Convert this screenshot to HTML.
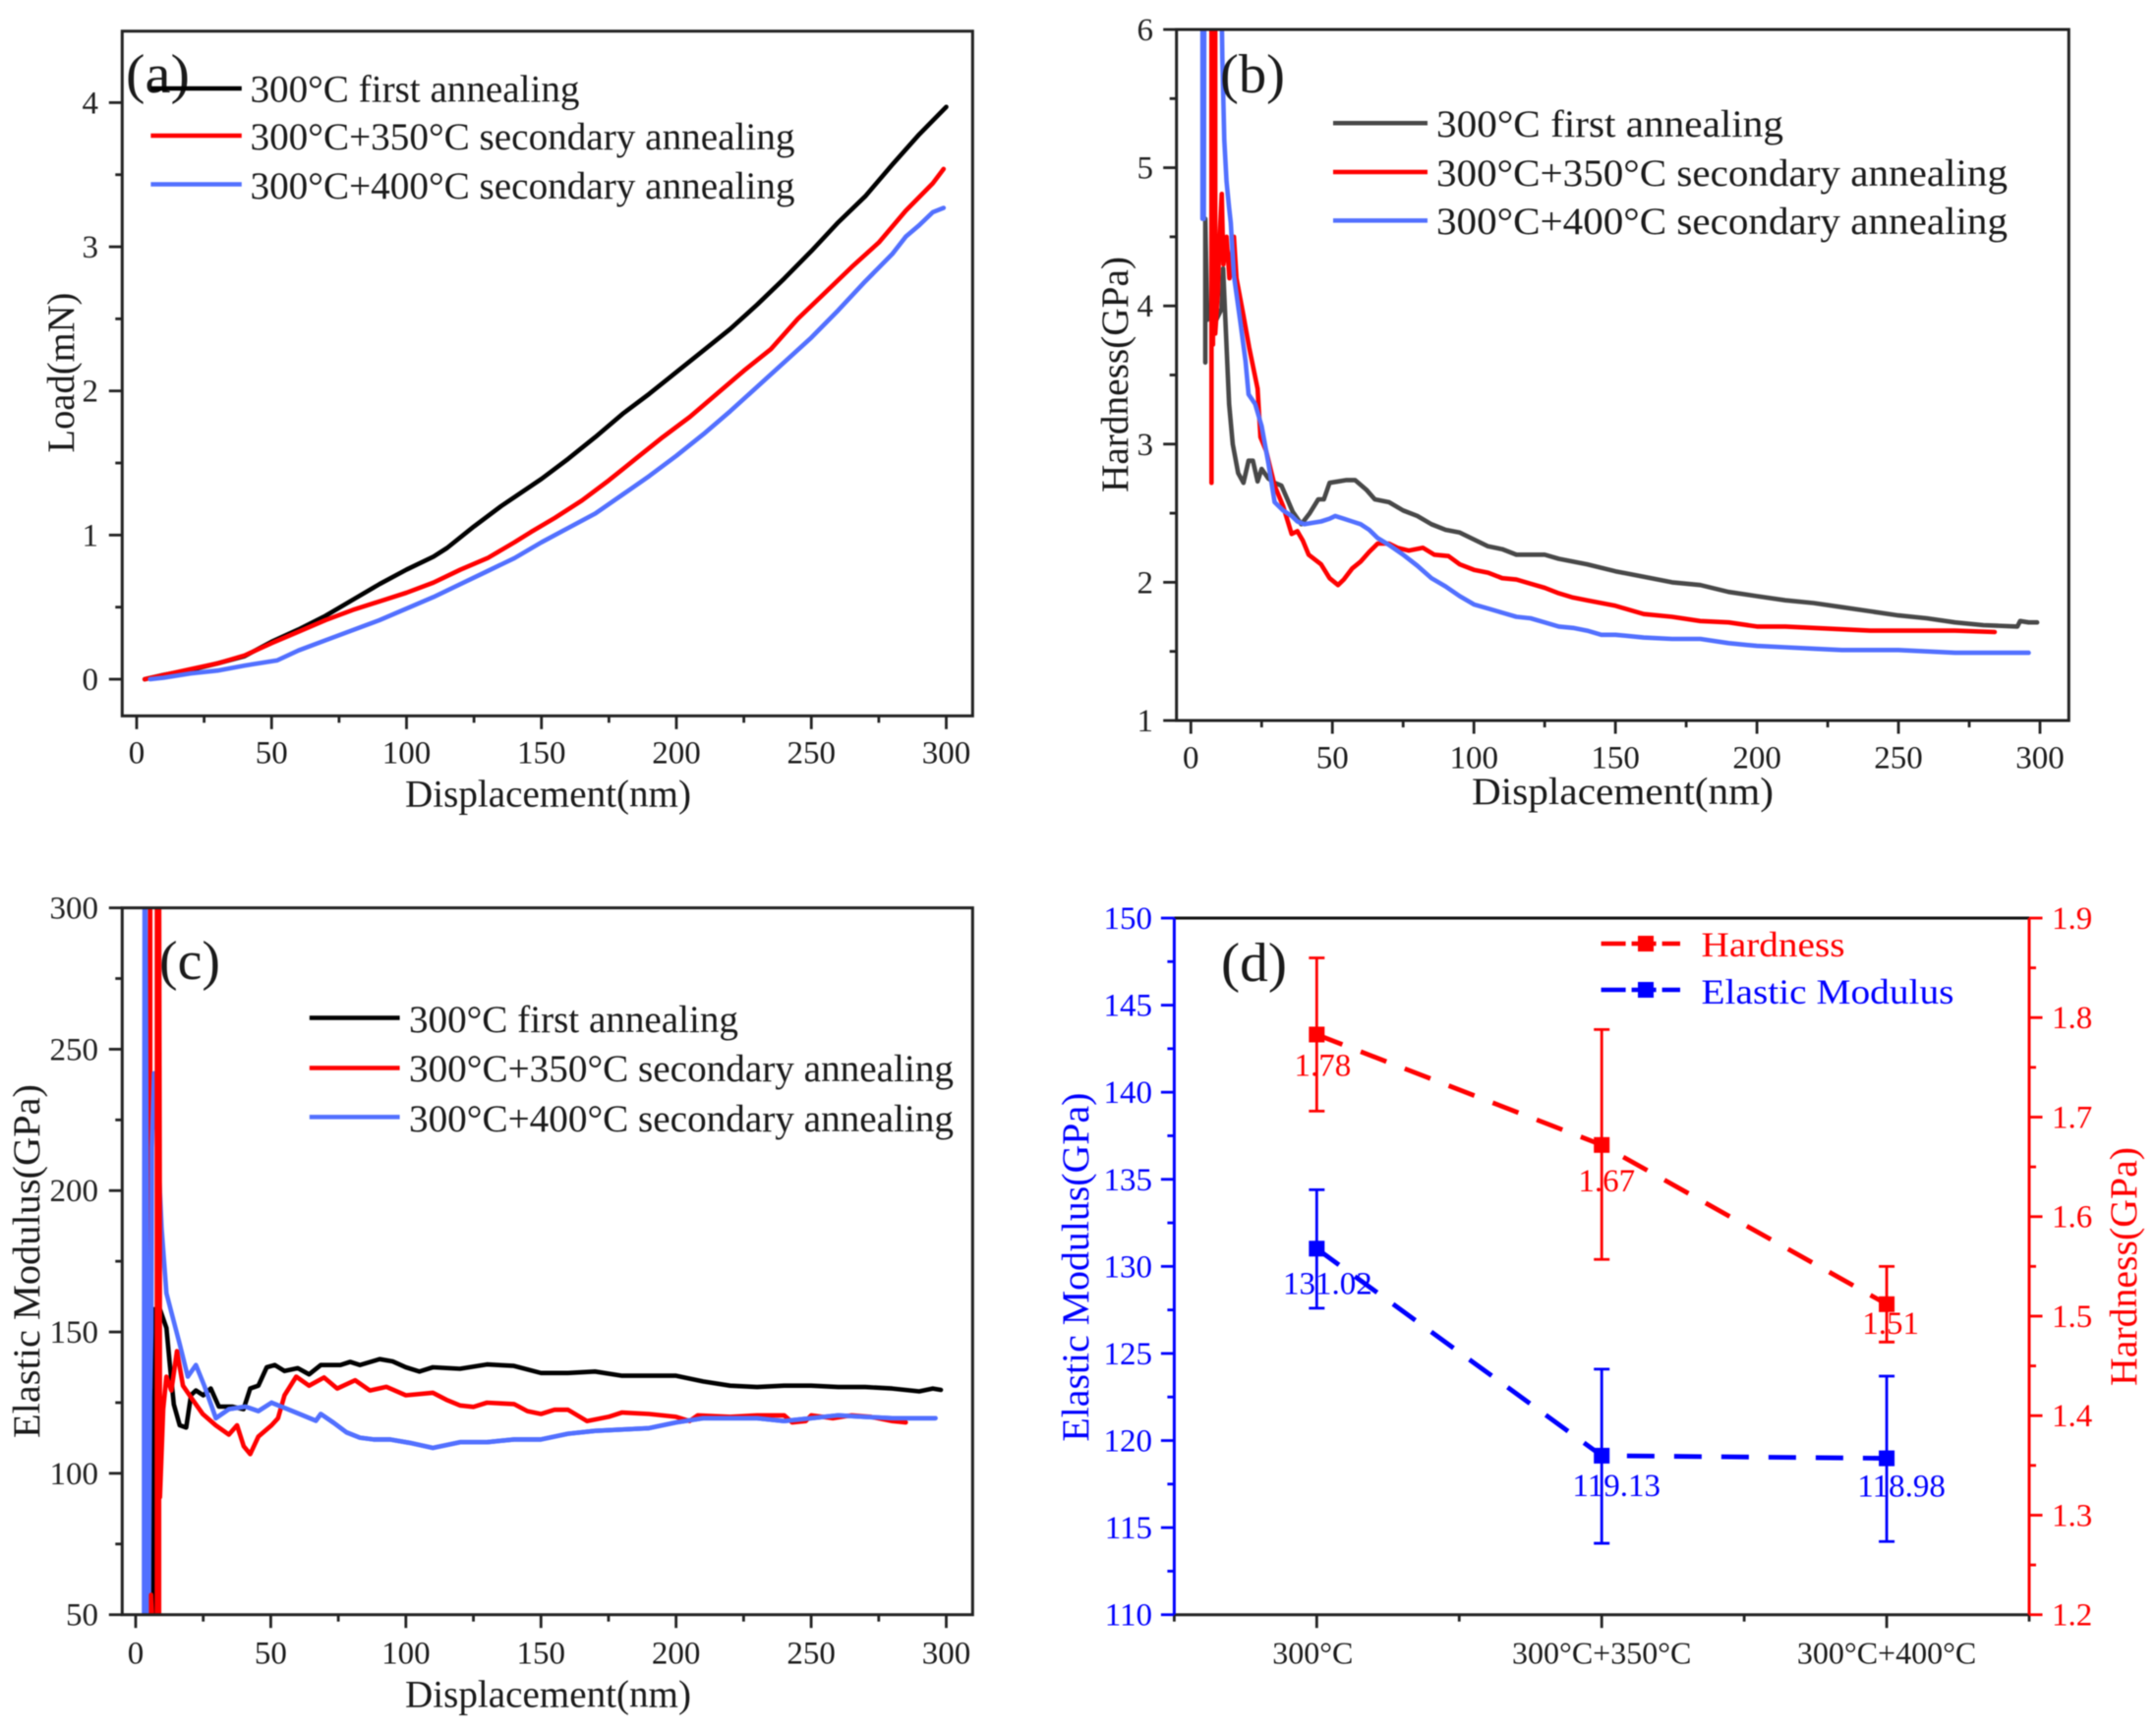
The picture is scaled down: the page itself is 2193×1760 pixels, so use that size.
<!DOCTYPE html>
<html lang="en">
<head>
<meta charset="utf-8">
<title>Nanoindentation results after annealing</title>
<style>
  html, body { margin: 0; padding: 0; background: #fff; }
  svg { display: block; filter: blur(0.6px); }
  text { font-family: "Liberation Serif", serif; fill: #1a1a1a; }
  .leg { font-size: 39px; }
  .title { font-size: 39px; }
  .tag { font-size: 56px; }
</style>
</head>
<body>
<svg id="fig" xmlns="http://www.w3.org/2000/svg" width="2193" height="1760" viewBox="0 0 2193 1760">
  <defs>
    <clipPath id="clip-a"><rect x="124.3" y="31.7" width="865" height="696.6"/></clipPath>
    <clipPath id="clip-b"><rect x="1196.7" y="30" width="907.6" height="703"/></clipPath>
    <clipPath id="clip-c"><rect x="124.3" y="923.6" width="865" height="719.1"/></clipPath>
  </defs>
  <rect width="2193" height="1760" fill="#fff"/>

  <g id="panel-a"></g>
  <g id="panel-b"></g>
  <g id="panel-c"></g>
  <g id="panel-d"></g>

  <!-- panel a text -->
  <text class="tag" x="128" y="94" textLength="65" lengthAdjust="spacingAndGlyphs">(a)</text>
  <text class="title" x="412" y="820.5" textLength="291" lengthAdjust="spacingAndGlyphs">Displacement(nm)</text>
  <text class="title" transform="translate(75,460.6) rotate(-90)" textLength="163" lengthAdjust="spacingAndGlyphs">Load(mN)</text>
  <line x1="153.4" x2="245.8" y1="90" y2="90" stroke="#000" stroke-width="4.5"/>
  <line x1="153.4" x2="245.8" y1="138" y2="138" stroke="#ff0000" stroke-width="4.5"/>
  <line x1="153.4" x2="245.8" y1="187.5" y2="187.5" stroke="#5270ff" stroke-width="4.5"/>
  <text class="leg" x="254.5" y="103.5" textLength="335" lengthAdjust="spacingAndGlyphs">300°C first annealing</text>
  <text class="leg" x="254.5" y="152" textLength="554" lengthAdjust="spacingAndGlyphs">300°C+350°C secondary annealing</text>
  <text class="leg" x="254.5" y="202" textLength="554" lengthAdjust="spacingAndGlyphs">300°C+400°C secondary annealing</text>

  <!-- panel b text -->
  <text class="tag" x="1241" y="94" textLength="66" lengthAdjust="spacingAndGlyphs">(b)</text>
  <text class="title" x="1497" y="818" textLength="307" lengthAdjust="spacingAndGlyphs">Displacement(nm)</text>
  <text class="title" transform="translate(1147,501) rotate(-90)" textLength="240" lengthAdjust="spacingAndGlyphs">Hardness(GPa)</text>
  <line x1="1356" x2="1452" y1="125.3" y2="125.3" stroke="#484848" stroke-width="4.5"/>
  <line x1="1356" x2="1452" y1="175" y2="175" stroke="#ff0000" stroke-width="4.5"/>
  <line x1="1356" x2="1452" y1="224.4" y2="224.4" stroke="#5270ff" stroke-width="4.5"/>
  <text class="leg" x="1461" y="139" textLength="353" lengthAdjust="spacingAndGlyphs">300°C first annealing</text>
  <text class="leg" x="1461" y="189" textLength="581" lengthAdjust="spacingAndGlyphs">300°C+350°C secondary annealing</text>
  <text class="leg" x="1461" y="238" textLength="581" lengthAdjust="spacingAndGlyphs">300°C+400°C secondary annealing</text>

  <!-- panel c text -->
  <text class="tag" x="162" y="996" textLength="62" lengthAdjust="spacingAndGlyphs">(c)</text>
  <text class="title" x="412" y="1736.5" textLength="291" lengthAdjust="spacingAndGlyphs">Displacement(nm)</text>
  <text class="title" transform="translate(40,1463) rotate(-90)" textLength="360" lengthAdjust="spacingAndGlyphs">Elastic Modulus(GPa)</text>
  <line x1="314.8" x2="406.6" y1="1035.5" y2="1035.5" stroke="#000" stroke-width="4.5"/>
  <line x1="314.8" x2="406.6" y1="1086.5" y2="1086.5" stroke="#ff0000" stroke-width="4.5"/>
  <line x1="314.8" x2="406.6" y1="1136.4" y2="1136.4" stroke="#5270ff" stroke-width="4.5"/>
  <text class="leg" x="416" y="1050" textLength="335" lengthAdjust="spacingAndGlyphs">300°C first annealing</text>
  <text class="leg" x="416" y="1100" textLength="554" lengthAdjust="spacingAndGlyphs">300°C+350°C secondary annealing</text>
  <text class="leg" x="416" y="1151" textLength="554" lengthAdjust="spacingAndGlyphs">300°C+400°C secondary annealing</text>

  <!-- panel d text -->
  <text class="tag" x="1242" y="998" textLength="67" lengthAdjust="spacingAndGlyphs">(d)</text>
  <text class="title" style="fill:#0000ff" transform="translate(1107,1466.6) rotate(-90)" textLength="355" lengthAdjust="spacingAndGlyphs">Elastic Modulus(GPa)</text>
  <text class="title" style="fill:#ff0000" transform="translate(2173,1410) rotate(-90)" textLength="243" lengthAdjust="spacingAndGlyphs">Hardness(GPa)</text>
  <line x1="1628.6" x2="1709" y1="960" y2="960" stroke="#ff0000" stroke-width="4.5" stroke-dasharray="25 6"/>
  <rect x="1666" y="952" width="16" height="16" fill="#ff0000"/>
  <line x1="1628.6" x2="1709" y1="1007" y2="1007" stroke="#0000ff" stroke-width="4.5" stroke-dasharray="25 6"/>
  <rect x="1666" y="999" width="16" height="16" fill="#0000ff"/>
  <text class="leg" style="fill:#ff0000;font-size:36px" x="1730.5" y="973" textLength="146" lengthAdjust="spacingAndGlyphs">Hardness</text>
  <text class="leg" style="fill:#0000ff;font-size:36px" x="1730.5" y="1021" textLength="257" lengthAdjust="spacingAndGlyphs">Elastic Modulus</text>
</svg>

<script>
// ---------- tick values ----------
const dispTicks = [0, 50, 100, 150, 200, 250, 300];
const dispMinor = [25, 75, 125, 175, 225, 275];
const loadTicks = [0, 1, 2, 3, 4];
const loadMinor = [0.5, 1.5, 2.5, 3.5];
const hardTicks = [1, 2, 3, 4, 5, 6];
const hardMinor = [1.5, 2.5, 3.5, 4.5, 5.5];
const modTicks = [50, 100, 150, 200, 250, 300];
const modMinor = [75, 125, 175, 225, 275];
const dLeftTicks = [110, 115, 120, 125, 130, 135, 140, 145, 150];
const dLeftMinor = [112.5, 117.5, 122.5, 127.5, 132.5, 137.5, 142.5, 147.5];
const dRightTicks = [1.2, 1.3, 1.4, 1.5, 1.6, 1.7, 1.8, 1.9];
const dRightMinor = [1.25, 1.35, 1.45, 1.55, 1.65, 1.75, 1.85];

// ---------- panel a: [displacement nm, load mN] ----------
const loadFirst = [[3,0],[10,.03],[20,.065],[30,.11],[40,.16],[50,.26],[60,.345],[70,.44],[80,.55],[90,.66],[100,.76],[110,.85],[115,.91],[125,1.06],[135,1.2],[150,1.39],[160,1.53],[170,1.68],[180,1.84],[190,1.98],[200,2.13],[210,2.28],[220,2.43],[230,2.6],[240,2.78],[250,2.97],[260,3.17],[270,3.35],[280,3.57],[290,3.78],[300,3.97]];
const load350 = [[3,0],[20,.07],[30,.11],[40,.165],[50,.25],[60,.33],[70,.41],[80,.48],[90,.54],[100,.6],[110,.67],[120,.76],[130,.84],[140,.95],[146,1.02],[155,1.12],[165,1.24],[175,1.38],[185,1.53],[195,1.68],[205,1.82],[215,1.98],[225,2.14],[235,2.29],[245,2.5],[255,2.68],[265,2.86],[275,3.03],[285,3.25],[295,3.44],[299,3.54]];
const load400 = [[5,0],[10,.01],[20,.04],[30,.06],[40,.095],[52,.13],[60,.2],[70,.27],[80,.34],[90,.41],[100,.49],[110,.57],[120,.66],[130,.75],[140,.84],[150,.95],[160,1.05],[170,1.15],[180,1.28],[190,1.41],[200,1.55],[210,1.7],[220,1.86],[230,2.03],[240,2.2],[250,2.37],[260,2.56],[270,2.76],[280,2.95],[285,3.07],[290,3.15],[295,3.24],[299,3.27]];

// ---------- panel b: [displacement nm, hardness GPa] ----------
const hardFirst = [[5.1,3.59],[5.1,4.63],[5.8,3.9],[7,4.0],[9,3.9],[10.9,3.98],[11.4,4.27],[12.2,3.9],[13.5,3.29],[14.8,3.0],[16.7,2.79],[18.6,2.72],[20.4,2.88],[21.9,2.88],[23.6,2.73],[25,2.82],[27.4,2.75],[29.6,2.72],[32,2.7],[34.1,2.6],[36,2.51],[39,2.42],[42,2.5],[45,2.6],[47,2.6],[49,2.72],[52,2.73],[55,2.74],[58,2.74],[62,2.67],[65,2.6],[70,2.58],[75,2.52],[80,2.48],[85,2.42],[90,2.38],[95,2.36],[100,2.31],[105,2.26],[110,2.24],[115,2.2],[120,2.2],[125,2.2],[130,2.17],[140,2.13],[150,2.08],[160,2.04],[170,2.0],[180,1.98],[190,1.93],[200,1.9],[210,1.87],[220,1.85],[230,1.82],[240,1.79],[250,1.76],[260,1.74],[270,1.71],[280,1.69],[292,1.68],[293,1.72],[296,1.71],[299,1.71]];
const hard350 = [[7.3,2.72],[7.3,6.6],[7.8,6.6],[7.8,3.72],[8.3,6.6],[8.6,6.6],[8.6,3.8],[9.6,4.1],[10,4.43],[10.9,4.81],[11.5,4.3],[12.6,4.5],[13.6,4.2],[15.2,4.5],[16.1,4.2],[18.6,3.93],[20.6,3.7],[23.6,3.4],[24.6,3.05],[26.6,2.95],[29.6,2.7],[32.6,2.55],[35.6,2.35],[37.6,2.37],[39.6,2.3],[41.6,2.2],[46,2.13],[49,2.03],[52,1.98],[54,2.02],[57,2.1],[60,2.15],[63,2.22],[66,2.28],[70,2.28],[73,2.25],[77,2.23],[82,2.25],[86,2.2],[91,2.19],[95,2.13],[100,2.09],[105,2.07],[110,2.03],[115,2.02],[120,1.99],[125,1.96],[130,1.92],[135,1.89],[140,1.87],[150,1.83],[160,1.77],[170,1.75],[180,1.72],[190,1.71],[200,1.68],[210,1.68],[220,1.67],[230,1.66],[240,1.65],[250,1.65],[260,1.65],[270,1.65],[284,1.64]];
const hard400 = [[4.1,4.63],[4.1,6.6],[4.6,6.6],[4.6,4.63],[4.8,6.6],[10.6,6.6],[11.1,5.8],[11.8,5.2],[12.6,4.9],[13.5,4.71],[14.1,4.6],[15.2,4.22],[17.5,3.88],[19.3,3.6],[20.4,3.36],[22.7,3.29],[25,3.13],[27.4,2.86],[29.6,2.58],[32.6,2.52],[35.6,2.48],[37.6,2.44],[40,2.42],[43,2.43],[46,2.44],[49,2.46],[51,2.48],[54,2.46],[57,2.44],[60,2.42],[63,2.38],[66,2.32],[70,2.27],[75,2.2],[80,2.12],[85,2.03],[90,1.97],[95,1.9],[100,1.84],[105,1.81],[110,1.78],[115,1.75],[120,1.74],[125,1.71],[130,1.68],[135,1.67],[140,1.65],[145,1.62],[150,1.62],[160,1.6],[170,1.59],[180,1.59],[190,1.56],[200,1.54],[210,1.53],[220,1.52],[230,1.51],[240,1.51],[250,1.51],[260,1.5],[270,1.49],[280,1.49],[296,1.49]];

// ---------- panel c: [displacement nm, modulus GPa] ----------
const modFirst = [[6.5,40],[6.5,158],[9,158],[11.4,151.4],[12.6,139],[14.1,124.4],[16.3,117],[18.7,116.2],[20.5,127.7],[22.3,129.3],[25,127.6],[27.8,130],[30.8,123.6],[35.7,123.6],[39.9,122.7],[42.4,130],[45.4,131],[48.5,137.5],[51.5,138.3],[55.1,136.2],[60,137.2],[64.2,135],[68.5,138.3],[75.8,138.3],[79.4,139.4],[83,138.3],[90.3,140.4],[95.1,139.6],[100,137.5],[105,136],[110,137.5],[120,137],[130,138.5],[140,138],[150,135.5],[160,135.5],[170,136],[180,134.5],[190,134.5],[200,134.5],[210,132.5],[220,131],[230,130.5],[240,131],[250,131],[260,130.5],[270,130.5],[280,130],[290,129],[295,130],[298,129.5]];
const mod400 = [[3.1,40],[3.1,130],[3.3,310],[3.6,310],[4.4,130],[4.4,40],[4.8,40],[5.3,127],[5.8,150],[6,215],[6.8,241.5],[7.5,230],[7.8,224],[9.6,186.6],[11.4,163.7],[13.2,157],[16.3,145.7],[19.3,134.2],[22.3,138.3],[25.4,131],[29.7,119.5],[34.5,122.7],[40.6,123.6],[45.4,122],[50.3,125],[56.3,122.7],[62.4,120.3],[66.7,118.6],[68.5,121],[73.4,117.8],[78,114.5],[83,112.6],[88,112],[94,112],[101.3,110.8],[110,109],[120,111],[130,111],[140,112],[150,112],[160,114],[170,115],[180,115.5],[190,116],[200,118],[210,119.5],[220,119.5],[230,119.5],[240,118.5],[250,119.5],[260,120.5],[270,120],[280,119.5],[296,119.5]];
const mod350Thin = [[5.4,310],[5.4,130]];
const mod350 = [[5.7,40],[5.7,57],[6.6,40],[7.85,40],[7.85,310],[8.25,310],[8.25,40],[8.67,40],[8.67,310],[8.9,200],[9,91.6],[10.2,122.7],[11.4,134.2],[13.2,129.3],[15.3,143.2],[17.5,131],[21.1,126],[24.8,121],[29.6,117],[34.5,113.7],[37.5,117],[40,109.6],[42.4,106.8],[45.4,113],[50.3,117],[52.7,119.5],[55.1,127.6],[59.4,134.2],[64.2,131],[69.7,133.9],[74.6,130],[81.2,132.9],[86.7,129.3],[92.8,130.6],[100,127.6],[110,128.5],[115,126],[120,124],[125,123.5],[130,125],[140,124.5],[145,122],[150,121],[155,122.5],[160,122.5],[167,118.5],[175,120],[180,121.5],[190,121],[200,120],[205,118.5],[208,120.5],[220,120],[230,120.5],[240,120.5],[243,118],[248,118.5],[250,120.5],[258,119.5],[265,120.5],[272,120],[280,118.5],[285,118]];

// ---------- panel d ----------
const treatments = ['300°C', '300°C+350°C', '300°C+400°C'];
const hardnessMean = [1.783, 1.672, 1.512];
const hardnessHigh = [1.86, 1.788, 1.55];
const hardnessLow = [1.706, 1.557, 1.474];
const hardnessLabels = ['1.78', '1.67', '1.51'];
const modulusMean = [131.02, 119.13, 118.98];
const modulusHigh = [134.4, 124.1, 123.7];
const modulusLow = [127.6, 114.1, 114.2];
const modulusLabels = ['131.02', '119.13', '118.98'];

// ---------- helpers ----------
const NS = 'http://www.w3.org/2000/svg';
const MAJOR = 13.5, MINOR = 7;
function linear(d0, d1, r0, r1) { return v => r0 + (v - d0) * (r1 - r0) / (d1 - d0); }
function mk(parent, tag, attrs, txt) {
  const el = document.createElementNS(NS, tag);
  for (const k in attrs) el.setAttribute(k, attrs[k]);
  if (txt !== undefined) el.textContent = txt;
  parent.appendChild(el);
  return el;
}
function drawFrame(g, left, right, top, bottom, stroke) {
  const el = mk(g, 'rect', {x: left, y: top, width: right - left, height: bottom - top, fill: 'none', stroke: stroke, 'stroke-width': 3});
  
  
}
function xAxis(g, scale, majors, minors, labels, bottom, baseline, color) {
  majors.forEach((v, i) => {
    const t = mk(g, 'line', {x1: scale(v), x2: scale(v), y1: bottom, y2: bottom + MAJOR, stroke: color, 'stroke-width': 2.8});
    
    
    if (labels) {
      const l = mk(g, 'text', {x: scale(v), y: baseline, 'text-anchor': 'middle', 'font-size': 33}, labels[i]);
      
      
    }
  });
  minors.forEach(v => {
    const t = mk(g, 'line', {x1: scale(v), x2: scale(v), y1: bottom, y2: bottom + MINOR, stroke: color, 'stroke-width': 2.8});
    
    
  });
}
function yAxis(g, scale, majors, minors, axisX, dir, labelX, anchor, color, fmt) {
  majors.forEach(v => {
    const t = mk(g, 'line', {x1: axisX, x2: axisX + dir * MAJOR, y1: scale(v), y2: scale(v), stroke: color, 'stroke-width': 2.8});
    
    
    const l = mk(g, 'text', {x: labelX, y: scale(v) + 11, 'text-anchor': anchor, 'font-size': 33, style: 'fill:' + color}, fmt ? fmt(v) : String(v));
    
    
  });
  minors.forEach(v => {
    const t = mk(g, 'line', {x1: axisX, x2: axisX + dir * MINOR, y1: scale(v), y2: scale(v), stroke: color, 'stroke-width': 2.8});
    
    
  });
}
function curve(g, pts, sx, sy, color, clip, name) {
  const d = pts.map((p, i) => (i ? 'L' : 'M') + sx(p[0]).toFixed(1) + ' ' + sy(p[1]).toFixed(1)).join(' ');
  const el = mk(g, 'path', {d: d, fill: 'none', stroke: color, 'stroke-width': 4.6, 'stroke-linejoin': 'round', 'stroke-linecap': 'round', 'clip-path': 'url(#' + clip + ')'});
  
  
}

const BLUE = '#5270ff', RED = '#ff0000';

// ---------- panel a ----------
(function () {
  const g = document.getElementById('panel-a');
  const sx = linear(0, 300, 139, 962.5), sy = linear(0, 4, 691, 104.4);
  curve(g, loadFirst, sx, sy, '#000', 'clip-a', 'curve-first-annealing');
  curve(g, load350, sx, sy, RED, 'clip-a', 'curve-350-annealing');
  curve(g, load400, sx, sy, BLUE, 'clip-a', 'curve-400-annealing');
  drawFrame(g, 124.3, 989.3, 31.7, 728.3, '#222');
  xAxis(g, sx, dispTicks, dispMinor, dispTicks, 728.3, 776.6, '#222');
  yAxis(g, sy, loadTicks, loadMinor, 124.3, -1, 100, 'end', '#222');
})();

// ---------- panel b ----------
(function () {
  const g = document.getElementById('panel-b');
  const sx = linear(0, 300, 1211.3, 2075), sy = linear(1, 6, 733, 30);
  curve(g, hardFirst, sx, sy, '#484848', 'clip-b', 'curve-first-annealing');
  curve(g, hard350, sx, sy, RED, 'clip-b', 'curve-350-annealing');
  curve(g, hard400, sx, sy, BLUE, 'clip-b', 'curve-400-annealing');
  drawFrame(g, 1196.7, 2104.3, 30, 733, '#222');
  xAxis(g, sx, dispTicks, dispMinor, dispTicks, 733, 781.5, '#222');
  yAxis(g, sy, hardTicks, hardMinor, 1196.7, -1, 1173, 'end', '#222');
})();

// ---------- panel c ----------
(function () {
  const g = document.getElementById('panel-c');
  const sx = linear(0, 300, 138, 962.5), sy = linear(50, 300, 1642.7, 923.6);
  curve(g, modFirst, sx, sy, '#000', 'clip-c', 'curve-first-annealing');
  curve(g, mod350Thin, sx, sy, RED, 'clip-c', 'curve-350-annealing-upper-spike');
  curve(g, mod400, sx, sy, BLUE, 'clip-c', 'curve-400-annealing');
  curve(g, mod350, sx, sy, RED, 'clip-c', 'curve-350-annealing');
  curve(g, mod400.slice(20), sx, sy, BLUE, 'clip-c', 'curve-400-annealing-overlay');
  drawFrame(g, 124.3, 989.3, 923.6, 1642.7, '#222');
  xAxis(g, sx, dispTicks, dispMinor, dispTicks, 1642.7, 1692.6, '#222');
  yAxis(g, sy, modTicks, modMinor, 124.3, -1, 100, 'end', '#222');
})();

// ---------- panel d ----------
(function () {
  const g = document.getElementById('panel-d');
  const sx = linear(0.5, 3.5, 1194.4, 2064);
  const sL = linear(110, 150, 1642.7, 934);
  const sR = linear(1.2, 1.9, 1642.7, 934);
  const cats = treatments.map((_, i) => i + 1);
  const catShift = [-4, 0, 0];

  const top = mk(g, 'line', {x1: 1194.4, x2: 2064, y1: 934, y2: 934, stroke: '#111', 'stroke-width': 3});
  
  
  const bottom = mk(g, 'line', {x1: 1194.4, x2: 2064, y1: 1642.7, y2: 1642.7, stroke: '#222', 'stroke-width': 3});
  
  
  const left = mk(g, 'line', {x1: 1194.4, x2: 1194.4, y1: 934, y2: 1642.7, stroke: '#0000ff', 'stroke-width': 3});
  
  
  const right = mk(g, 'line', {x1: 2064, x2: 2064, y1: 934, y2: 1642.7, stroke: RED, 'stroke-width': 3});
  
  

  xAxis(g, sx, cats, [0.5, 1.5, 2.5, 3.5], null, 1642.7, 0, '#222');
  treatments.forEach((name, i) => {
    const l = mk(g, 'text', {x: sx(cats[i]) + catShift[i], y: 1692.6, 'text-anchor': 'middle', 'font-size': 32}, name);
    
    
  });
  yAxis(g, sL, dLeftTicks, dLeftMinor, 1194.4, -1, 1172, 'end', '#0000ff');
  yAxis(g, sR, dRightTicks, dRightMinor, 2064, 1, 2087, 'start', RED, v => v.toFixed(1));

  function series(mean, hi, lo, labels, sy, color, key, labelDx, labelDy) {
    const pts = mean.map((v, i) => sx(cats[i]).toFixed(1) + ',' + sy(v).toFixed(1)).join(' ');
    const line = mk(g, 'polyline', {points: pts, fill: 'none', stroke: color, 'stroke-width': 4.8, 'stroke-dasharray': '28 20'});
    
    
    mean.forEach((v, i) => {
      const x = sx(cats[i]);
      const bar = mk(g, 'line', {x1: x, x2: x, y1: sy(hi[i]), y2: sy(lo[i]), stroke: color, 'stroke-width': 2.8});
      
      
      const c1 = mk(g, 'line', {x1: x - 8, x2: x + 8, y1: sy(hi[i]), y2: sy(hi[i]), stroke: color, 'stroke-width': 2.8});
      
      
      const c2 = mk(g, 'line', {x1: x - 8, x2: x + 8, y1: sy(lo[i]), y2: sy(lo[i]), stroke: color, 'stroke-width': 2.8});
      
      
      const m = mk(g, 'rect', {x: x - 8, y: sy(v) - 8, width: 16, height: 16, fill: color});
      
      
      const t = mk(g, 'text', {x: x + labelDx[i], y: sy(v) + labelDy[i], 'text-anchor': 'middle', 'font-size': 33, style: 'fill:' + color}, labels[i]);
      
      
    });
  }
  series(hardnessMean, hardnessHigh, hardnessLow, hardnessLabels, sR, RED, 'hardness', [6, 5, 4], [42, 47, 30]);
  series(modulusMean, modulusHigh, modulusLow, modulusLabels, sL, '#0000ff', 'modulus', [11, 15, 15], [46, 41, 39]);
})();
</script>
</body>
</html>
